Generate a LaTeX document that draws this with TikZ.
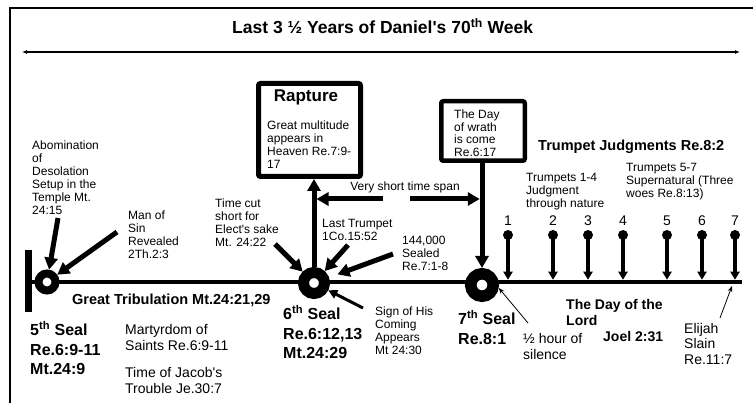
\documentclass[tikz,border=0pt]{standalone}
\usepackage{fontspec}
\setmainfont{Liberation Sans}
\usetikzlibrary{arrows.meta}

\begin{document}
\begin{tikzpicture}[x=1pt, y=-1pt,
    note/.style={font=\fontsize{12}{13}\selectfont, align=left, inner sep=0pt, anchor=north west},
    bignote/.style={font=\fontsize{14}{16.5}\selectfont, align=left, inner sep=0pt, anchor=north west},
    sealtext/.style={font=\bfseries\fontsize{16}{19.5}\selectfont, align=left, inner sep=0pt, anchor=north west},
    heading/.style={font=\bfseries\fontsize{14.5}{16}\selectfont, align=left, inner sep=0pt, anchor=west},
    seal/.style={circle, draw, fill=white, inner sep=0pt},
    box/.style={draw, rounded corners=2pt, inner sep=0pt},
    ball/.style={circle, fill, inner sep=0pt, minimum size=10pt},
    bigarrow/.style={line width=5pt, -{Triangle[length=12pt,width=13pt]}},
    midarrow/.style={line width=3pt, -{Triangle[length=9pt,width=9pt]}},
    thinarrow/.style={line width=.8pt, -{Stealth[length=6pt,width=4.5pt]}},
    stem/.style={line width=3.5pt, -{Triangle[length=8pt,width=9pt]}, shorten >=2.25pt}]
    \useasboundingbox (0,0) rectangle (753,403);
    % Draw the frame
    \draw[line width=2.5pt] (10,410) -- (10,8) -- (760,8);
    % Draw the title and the week arrow
    \node[font=\bfseries\fontsize{17.5}{19}\selectfont, anchor=west, inner sep=0pt] (title) at (232,26) {Last 3 ½ Years of Daniel\textquotesingle s 70\textsuperscript{th} Week};
    \coordinate (weekL) at (22,52);
    \coordinate (weekR) at (740,52);
    \draw[line width=1.5pt, {Latex[length=5pt,width=4pt]}-{Latex[length=5pt,width=4pt]}] (weekL) -- (weekR);
    % Draw the time line
    \coordinate (lineL) at (28,282);
    \coordinate (lineR) at (742,282);
    \draw[line width=4.5pt] (lineL) -- (lineR);
    \draw[line width=7pt] (28,250) -- (28,312);
    % Draw the seals
    \node[seal, line width=8pt, minimum size=17pt, outer sep=4pt] (seal5) at (47,282) {};
    \node[seal, line width=11pt, minimum size=21pt, outer sep=5.5pt] (seal6) at (314,283) {};
    \node[seal, line width=11.5pt, minimum size=22.5pt, outer sep=5.75pt] (seal7) at (482,285) {};
    \node[sealtext] (seal5text) at (30,321) {5\textsuperscript{th} Seal\\Re.6:9-11\\Mt.24:9};
    \node[sealtext] (seal6text) at (283,305) {6\textsuperscript{th} Seal\\Re.6:12,13\\Mt.24:29};
    \node[sealtext, font=\bfseries\fontsize{16}{20}\selectfont] (seal7text) at (458,310) {7\textsuperscript{th} Seal\\Re.8:1};
    % Notes round the 5th seal
    \node[note] (abom) at (32,140.5) {Abomination\\of\\Desolation\\Setup in the\\Temple Mt.\\24:15};
    \node[note] (sin) at (128,210.5) {Man of\\Sin\\Revealed\\2Th.2:3};
    \coordinate (abomtail) at (58,218);
    \coordinate (sintail) at (117,232);
    \draw[bigarrow] (abomtail) -- (seal5);
    \draw[bigarrow] (sintail) -- (seal5);
    \node[heading] (tribulation) at (72,300) {Great Tribulation Mt.24:21,29};
    \node[bignote] (martyr) at (125,324) {Martyrdom of\\Saints Re.6:9-11};
    \node[bignote] (jacob) at (125,367) {Time of Jacob\textquotesingle s\\Trouble Je.30:7};
    % Rapture box
    \node[box, line width=5pt, minimum width=102pt, minimum height=93pt] (rapture) at (309.5,130) {};
    \node[font=\bfseries\fontsize{17}{19}\selectfont, inner sep=0pt] (rapturetitle) at (306,97) {Rapture};
    \node[note] (rapturetext) at (267,120.5) {Great multitude\\appears in\\Heaven Re.7:9-\\17};
    \draw[bigarrow] (seal6.north) -- (seal6.north |- rapture.south);
    % Notes round the 6th seal
    \node[note] (timecut) at (215,198.5) {Time cut\\short for\\Elect\textquotesingle s sake\\Mt. 24:22};
    \node[note] (lasttrump) at (322,219.5) {Last Trumpet\\1Co.15:52};
    \node[note] (sealed) at (402,235.5) {144,000\\Sealed\\Re.7:1-8};
    \node[note] (sign) at (375,306.5) {Sign of His\\Coming\\Appears\\Mt 24:30};
    \coordinate (timecuttail) at (275,244);
    \coordinate (lasttrumptail) at (348,245);
    \coordinate (sealedtail) at (393,254);
    \coordinate (signtail) at (363,308);
    \draw[bigarrow] (timecuttail) -- (seal6);
    \draw[bigarrow] (lasttrumptail) -- (seal6);
    \draw[bigarrow, shorten >=9pt] (sealedtail) -- (seal6);
    \draw[midarrow] (signtail) -- (seal6);
    % Wrath box
    \node[box, line width=4.5pt, minimum width=83.5pt, minimum height=59.5pt] (wrath) at (483,131) {};
    \node[note, font=\fontsize{12}{12.8}\selectfont] (wrathtext) at (454,109.5) {The Day\\of wrath\\is come\\Re.6:17};
    \draw[bigarrow] (wrath.south -| seal7.north) -- (seal7.north);
    % Very short time span
    \node[note, anchor=center] (span) at (405,187) {Very short time span};
    \coordinate (spanL) at (383,199);
    \coordinate (spanR) at (410,199);
    \draw[bigarrow, shorten >=2.5pt] (spanL) -- (seal6.north |- spanL);
    \draw[bigarrow, shorten >=2.25pt] (spanR) -- (seal7.north |- spanR);
    % Trumpets
    \node[heading] (trumpets) at (538,147) {Trumpet Judgments Re.8:2};
    \node[note] (trump14) at (526,173.5) {Trumpets 1-4\\Judgment\\through nature};
    \node[note] (trump57) at (626,163.5) {Trumpets 5-7\\Supernatural (Three\\woes Re.8:13)};
    \foreach \x/\n in {508/1,553/2,588/3,623/4,667/5,702/6,735/7}{
      \node[bignote, anchor=center] (num\n) at (\x,221) {\n};
      \node[ball] (ball\n) at (\x,235) {};
      \draw[stem] (ball\n.center) -- (ball\n.center |- lineR);
    }
    % Notes round the 7th seal
    \node[bignote] (silence) at (523,333) {½ hour of\\silence};
    \coordinate (silencetail) at (528,323);
    \draw[thinarrow] (silencetail) -- (seal7.-10);
    \node[heading, font=\bfseries\fontsize{14}{16}\selectfont, anchor=north west] (dayoflord) at (566,299) {The Day of the\\Lord};
    \node[heading, font=\bfseries\fontsize{14}{16}\selectfont] (joel) at (603,337) {Joel 2:31};
    \node[bignote, font=\fontsize{14}{15.5}\selectfont] (elijah) at (684,323) {Elijah\\Slain\\Re.11:7};
    \coordinate (elijahtail) at (720,318);
    \coordinate (elijahtip) at (732,286);
    \draw[thinarrow] (elijahtail) -- (elijahtip);
  \end{tikzpicture}
\end{document}
